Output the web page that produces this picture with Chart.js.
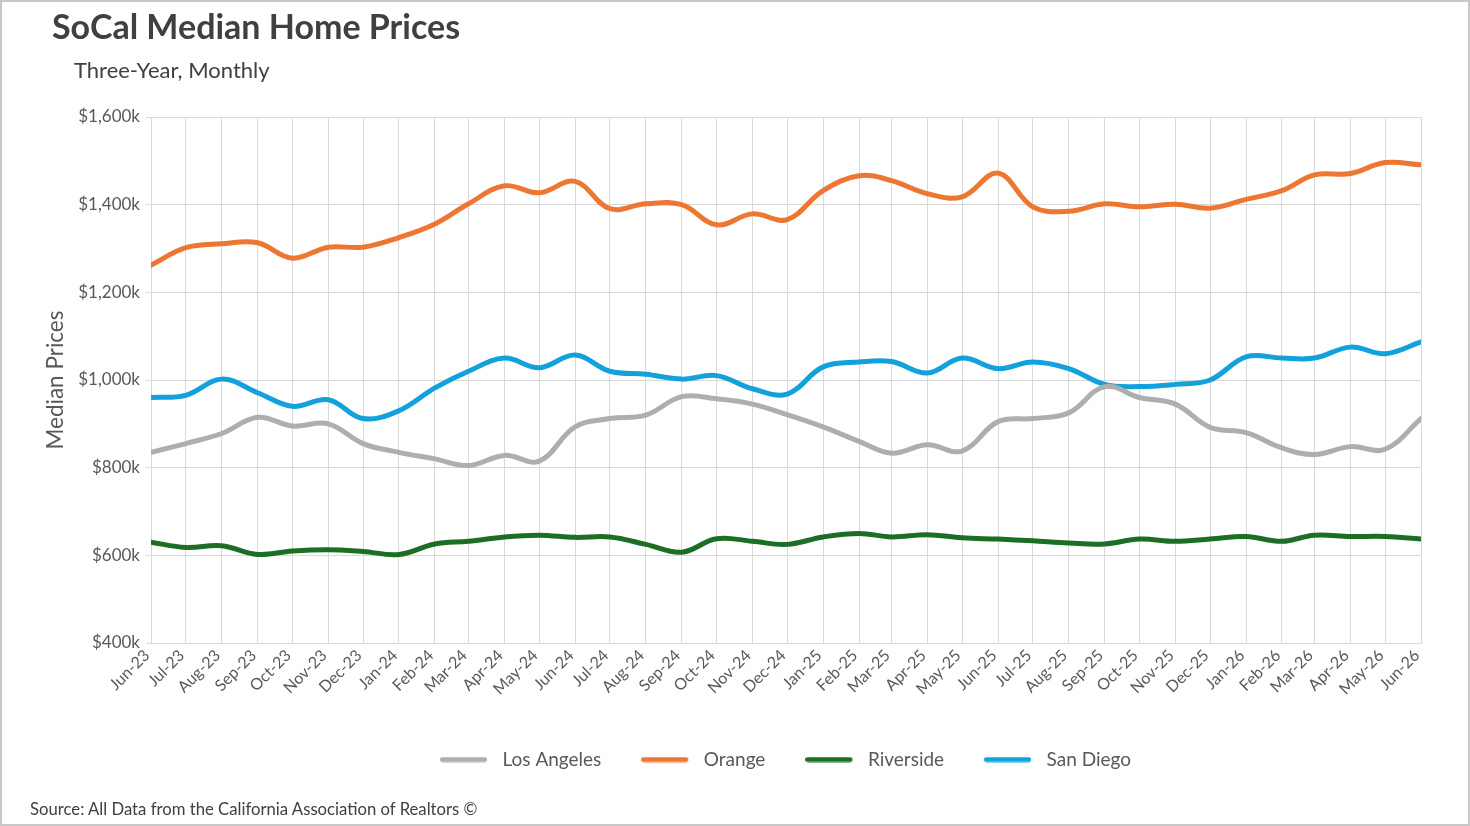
<!DOCTYPE html>
<html>
<head>
<meta charset="utf-8">
<script src="https://cdn.jsdelivr.net/npm/chart.js@4.4.1/dist/chart.umd.min.js"></script>
<style>
  html, body { margin: 0; padding: 0; background: #ffffff; }
  body { width: 1470px; height: 826px; position: relative; overflow: hidden; font-family: Lato, "Open Sans", sans-serif; }
  #frame { position: absolute; left: 0; top: 0; width: 1470px; height: 826px; box-sizing: border-box; border: 2px solid #c8c8c8; pointer-events: none; z-index: 2; }
  #wrap { position: absolute; left: 0; top: 0; width: 1470px; height: 826px; }
  .txt { position: absolute; white-space: nowrap; color: #404040; font-family: Lato, sans-serif; }
  #title { left: 52px; top: 5px; font-size: 34px; font-weight: 700; }
  #subtitle { left: 74px; top: 56px; font-size: 22px; }
  #source { left: 30px; top: 799px; font-size: 16.7px; }
</style>
</head>
<body>
<div id="wrap"><canvas id="c" width="1470" height="826"></canvas></div>
<div class="txt" id="title">SoCal Median Home Prices</div>
<div class="txt" id="subtitle">Three-Year, Monthly</div>
<div class="txt" id="source">Source: All Data from the California Association of Realtors ©</div>
<div id="frame"></div>
<script>
const months = ['Jun-23','Jul-23','Aug-23','Sep-23','Oct-23','Nov-23','Dec-23',
  'Jan-24','Feb-24','Mar-24','Apr-24','May-24','Jun-24','Jul-24','Aug-24','Sep-24','Oct-24','Nov-24','Dec-24',
  'Jan-25','Feb-25','Mar-25','Apr-25','May-25','Jun-25','Jul-25','Aug-25','Sep-25','Oct-25','Nov-25','Dec-25',
  'Jan-26','Feb-26','Mar-26','Apr-26','May-26','Jun-26'];

const losAngeles = [835,855,878,915,895,900,855,835,820,805,828,815,893,912,920,962,957,945,921,893,860,833,852,838,905,912,925,985,960,945,892,880,845,830,848,842,912];
const orange     = [1262,1302,1311,1313,1278,1303,1303,1325,1356,1402,1443,1427,1453,1391,1402,1400,1354,1379,1366,1432,1466,1455,1425,1418,1472,1395,1385,1402,1395,1401,1392,1412,1432,1468,1471,1496,1491];
const riverside  = [630,618,622,602,610,613,609,602,626,632,642,646,641,642,625,607,638,632,625,642,650,642,647,640,637,633,628,626,637,632,637,643,632,646,643,643,637];
const sanDiego   = [960,965,1002,971,940,955,912,930,982,1020,1050,1028,1057,1020,1013,1002,1010,980,968,1030,1041,1042,1016,1050,1026,1041,1026,990,985,990,1000,1053,1050,1050,1075,1060,1087];

const yTicks = [400, 600, 800, 1000, 1200, 1400, 1600];

const seriesNames  = ['Los Angeles', 'Orange', 'Riverside', 'San Diego'];
const seriesColors = ['#AEAEAE', '#ED7732', '#1C6E24', '#12A1DB'];

// month label -> days since first month (time-proportional spacing)
const MON = {Jan:0,Feb:1,Mar:2,Apr:3,May:4,Jun:5,Jul:6,Aug:7,Sep:8,Oct:9,Nov:10,Dec:11};
function dayNum(label) {
  const [m, y] = label.split('-');
  return Date.UTC(2000 + parseInt(y, 10), MON[m], 1) / 86400000;
}
const base = dayNum(months[0]);
const xs = months.map(m => dayNum(m) - base);

function pts(arr) { return arr.map((v, i) => ({ x: xs[i], y: v })); }

// legend swatch: rounded line on the left part of a slightly wider box
const SW_W = 53, SW_LINE = 47, SW_H = 6;
function swatch(color) {
  const c = document.createElement('canvas');
  c.width = SW_W; c.height = SW_H;
  const g = c.getContext('2d');
  g.strokeStyle = color; g.lineWidth = 5; g.lineCap = 'round';
  g.beginPath(); g.moveTo(2.5, SW_H / 2); g.lineTo(SW_LINE - 2.5, SW_H / 2); g.stroke();
  return c;
}
const swatches = seriesColors.map(swatch);

const allSeries = [losAngeles, orange, riverside, sanDiego];
const datasets = allSeries.map((arr, i) => ({
  label: seriesNames[i],
  data: pts(arr),
  borderColor: seriesColors[i],
  backgroundColor: seriesColors[i],
  borderWidth: 5,
  pointRadius: 0,
  pointHoverRadius: 0,
  tension: 0.38,
  fill: false,
  borderCapStyle: 'round',
  borderJoinStyle: 'round'
}));

const gridColor = '#d9d9d9';
const tickColor = '#595959';

// the legend row sits a little right of the canvas centre in the original
const legendShift = {
  id: 'legendShift',
  afterLayout(chart) {
    if (chart.legend) { chart.legend.left += 54; chart.legend.right += 54; }
  }
};

new Chart(document.getElementById('c'), {
  type: 'line',
  data: { datasets },
  plugins: [legendShift],
  options: {
    responsive: false,
    animation: false,
    devicePixelRatio: 1,
    layout: { padding: { top: 117, left: 42, right: 49, bottom: 47 } },
    plugins: {
      title: { display: false },
      tooltip: { enabled: false },
      legend: {
        display: true,
        position: 'bottom',
        labels: {
          usePointStyle: true,
          pointStyleWidth: SW_W,
          boxHeight: 5,
          padding: 40,
          color: tickColor,
          font: { family: 'Lato', size: 19 },
          generateLabels: (chart) => Chart.defaults.plugins.legend.labels.generateLabels(chart)
            .map((l) => Object.assign(l, { pointStyle: swatches[l.datasetIndex] }))
        }
      }
    },
    scales: {
      x: {
        type: 'linear',
        min: xs[0],
        max: xs[xs.length - 1],
        afterBuildTicks: (axis) => { axis.ticks = xs.map(v => ({ value: v })); },
        afterFit: (s) => { s.height = 67; },
        grid: { color: gridColor, lineWidth: 1, drawTicks: false },
        border: { color: gridColor },
        ticks: {
          autoSkip: false,
          minRotation: 45,
          maxRotation: 45,
          padding: 3,
          labelOffset: -4,
          color: tickColor,
          font: { family: 'Lato', size: 16 },
          callback: (v) => { const i = xs.indexOf(v); return i >= 0 ? months[i] : ''; }
        }
      },
      y: {
        min: yTicks[0],
        max: yTicks[yTicks.length - 1],
        afterBuildTicks: (axis) => { axis.ticks = yTicks.map(v => ({ value: v })); },
        afterFit: (s) => { s.width = 109; },
        grid: { color: gridColor, lineWidth: 1, drawTicks: true, tickLength: 5 },
        border: { color: gridColor },
        title: {
          display: true,
          text: 'Median Prices',
          color: tickColor,
          font: { family: 'Lato', size: 22.5 },
          padding: 0
        },
        ticks: {
          padding: 6,
          color: tickColor,
          font: { family: 'Lato', size: 17 },
          callback: (v) => '$' + Number(v).toLocaleString('en-US') + 'k'
        }
      }
    }
  }
});
</script>
</body>
</html>
